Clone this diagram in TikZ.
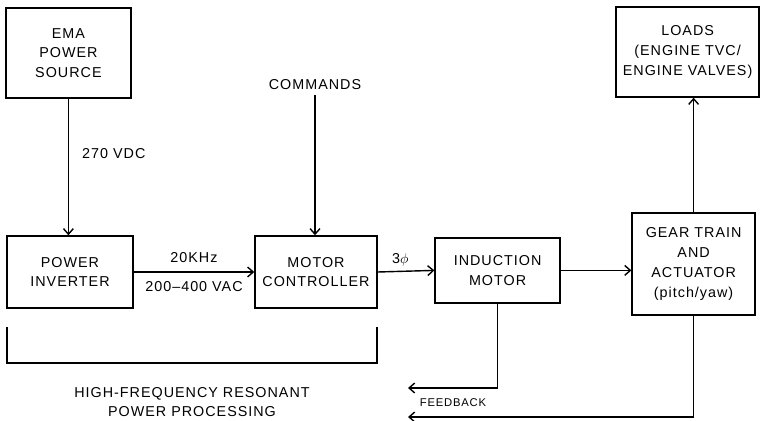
\documentclass[tikz,border=0pt]{standalone}
\usepackage{fontspec}
\setmainfont[LetterSpace=7]{Liberation Sans}
\usetikzlibrary{arrows.meta}
\begin{document}
\begin{tikzpicture}[line width=1pt,font=\fontsize{10.2}{14}\selectfont,
  >={Straight Barb[length=4pt,width=7pt]},
  blk/.style={draw,align=center,minimum width=3.1cm,minimum height=1.8cm}]
\useasboundingbox (0,0) rectangle (19,10.5);

\node[blk,minimum width=3.125cm,minimum height=2.25cm] (ema) at (1.71,9.175) {EMA\\POWER\\SOURCE};
\node[blk,minimum width=3.15cm] (inv) at (1.75,3.7) {POWER\\INVERTER};
\node[blk,minimum width=3.05cm] (ctl) at (7.9,3.7) {MOTOR\\CONTROLLER};
\node[blk,minimum width=3.125cm,minimum height=1.625cm] (ind) at (12.44,3.74) {INDUCTION\\MOTOR};
\node[blk,minimum width=3.075cm,minimum height=2.55cm] (gear) at (17.34,3.9) {GEAR TRAIN\\AND\\ACTUATOR\\(pitch/yaw)};
\node[blk,minimum width=3.575cm,minimum height=2.25cm] (loads) at (17.19,9.2) {LOADS\\(ENGINE TVC/\\ENGINE VALVES)};
\node (cmd) at (7.875,8.375) {COMMANDS};

\draw[->] (ema.south) -- node[pos=0.4,right=6pt] {270 VDC} (ema.south |- inv.north);
\draw[->] (cmd.south) -- (cmd.south |- ctl.north);
\draw[->] (inv.east) -- node[above=3pt] {20KHz} node[below=3pt] {200--400 VAC} (ctl.west);
\draw[->] (ctl.east) -- node[pos=0.4,above] {3\(\phi\)} (ind.west);
\draw[->] (ind.east) -- (ind.east -| gear.west);
\draw[->] (gear.north) -- (gear.north |- loads.south);

\coordinate (fb1) at (10.2,0.8);
\coordinate (fb2) at (10.2,0.075);
\draw[->] (ind.south) |- (fb1);
\draw[->] (gear.south) |- (fb2);
\node[font=\fontsize{8}{10}\selectfont] (fb) at (11.325,0.425) {FEEDBACK};

\draw (0.175,2.325) -- (0.175,1.425) -- (9.425,1.425) -- (9.425,2.325);
\node[align=center] (hf) at (4.8,0.45) {HIGH-FREQUENCY RESONANT\\POWER PROCESSING};
\end{tikzpicture}
\end{document}
